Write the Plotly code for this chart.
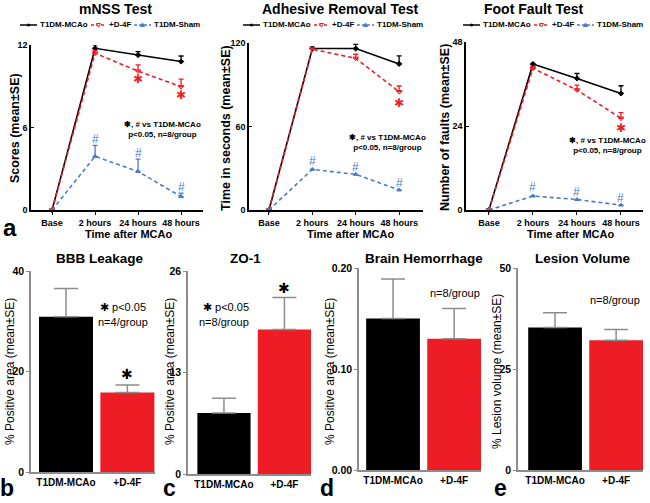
import plotly.graph_objects as go

# ---------------- data ----------------
time_labels = ["Base", "2 hours", "24 hours", "48 hours"]

mnss_mcao = [0, 11.76, 11.27, 10.8]
mnss_mcao_err = [0, 0.25, 0.25, 0.4]
mnss_d4f = [0, 11.4, 10.1, 8.97]
mnss_d4f_err = [0, 0.2, 0.45, 0.55]
mnss_sham = [0, 3.9, 2.8, 0.97]
mnss_sham_err = [0, 0.8, 0.9, 0.25]

adh_mcao = [0, 116, 116, 105]
adh_mcao_err = [0, 1, 3, 5.7]
adh_d4f = [0, 115.5, 109, 85]
adh_d4f_err = [0, 1, 2.9, 4.1]
adh_sham = [0, 29.2, 25.6, 14.4]
adh_sham_err = [0, 0, 0, 0]

ff_mcao = [0, 41.7, 37.6, 33.3]
ff_mcao_err = [0, 0, 1.4, 2.2]
ff_d4f = [0, 40.5, 34.3, 26.2]
ff_d4f_err = [0, 0.5, 1.4, 1.6]
ff_sham = [0, 4.0, 3.0, 1.4]
ff_sham_err = [0, 0, 0, 0]

# significance marks (x index, y value)
mnss_star = [(2, 9.5), (3, 8.36)]
mnss_hash = [(1, 5.2), (2, 4.15), (3, 1.65)]
adh_star = [(3, 77)]
adh_hash = [(1, 35.4), (2, 30.7), (3, 19.6)]
ff_star = [(3, 23.3)]
ff_hash = [(1, 6.6), (2, 5.1), (3, 3.5)]

bar_groups = ["T1DM-MCAo", "+D-4F"]
bbb = [30.9, 15.8]
bbb_err = [5.6, 1.5]
zo1 = [7.8, 18.5]
zo1_err = [1.9, 4.1]
hem = [0.150, 0.130]
hem_err = [0.039, 0.030]
lesion = [35.3, 32.1]
lesion_err = [3.6, 2.7]

# ---------------- helpers ----------------
W, H = 650, 503
def px(x):
    return x / W
def py(y):
    return 1 - y / H

BLACK = "#000000"
RED = "#EE1C25"
BLUE = "#4A7CC4"
GRAY = "#8C8C8C"
FONT = "Liberation Sans"

fig = go.Figure()
annotations = []
shapes = []

def ann(**kw):
    d = dict(showarrow=False, xanchor="center", yanchor="middle")
    d.update(kw)
    annotations.append(d)

top = [
    dict(title="mNSS Test", ytitle="Scores (mean±SE)",
         data=(mnss_mcao, mnss_mcao_err, mnss_d4f, mnss_d4f_err, mnss_sham, mnss_sham_err),
         xdom=(31, 203), ytop=45, yrange=[0, 12], ytick=[0, 6, 12],
         xrange=[-0.49, 3.51], tcx=116, ytx=15, xtx=128, dx=0,
         stars=mnss_star, hashes=mnss_hash, note=(163, 129)),
    dict(title="Adhesive Removal Test", ytitle="Time in seconds (mean±SE)",
         data=(adh_mcao, adh_mcao_err, adh_d4f, adh_d4f_err, adh_sham, adh_sham_err),
         xdom=(249, 423), ytop=43, yrange=[0, 120], ytick=[0, 60, 120],
         xrange=[-0.46, 3.55], tcx=340, ytx=226, xtx=350, dx=223,
         stars=adh_star, hashes=adh_hash, note=(387, 142)),
    dict(title="Foot Fault Test", ytitle="Number of faults (mean±SE)",
         data=(ff_mcao, ff_mcao_err, ff_d4f, ff_d4f_err, ff_sham, ff_sham_err),
         xdom=(466, 643), ytop=42, yrange=[0, 48], ytick=[0, 24, 48],
         xrange=[-0.52, 3.5], tcx=534, ytx=445, xtx=570, dx=443,
         stars=ff_star, hashes=ff_hash, note=(607, 146)),
]

xs = list(range(len(time_labels)))
layout_axes = {}

for i, p in enumerate(top, start=1):
    xa = "x" if i == 1 else f"x{i}"
    ya = "y" if i == 1 else f"y{i}"
    mcao, mcao_e, d4f, d4f_e, sham, sham_e = p["data"]
    series = [
        (mcao, mcao_e, BLACK, "solid", "diamond", 4),
        (d4f, d4f_e, RED, "4px,3px", "triangle-down-open", 5),
        (sham, sham_e, BLUE, "4px,3px", "triangle-up", 4),
    ]
    for vals, errs, col, dash, sym, ms in series:
        fig.add_trace(go.Scatter(
            x=xs, y=vals, xaxis=xa, yaxis=ya, mode="lines+markers",
            line=dict(color=col, width=1.6, dash=dash),
            marker=dict(color=col, symbol=sym, size=ms, line=dict(color=col, width=1)),
            error_y=dict(type="data", symmetric=False, array=errs,
                         arrayminus=[0] * len(errs), color=col, thickness=1.3, width=2.5),
            cliponaxis=False, showlegend=False))
    layout_axes["xaxis" if i == 1 else f"xaxis{i}"] = dict(
        domain=[px(p["xdom"][0]), px(p["xdom"][1])], anchor=ya, automargin=False,
        range=p["xrange"], tickvals=xs, ticktext=time_labels,
        showline=True, linecolor=BLACK, linewidth=1.5, ticks="outside",
        ticklen=3, tickcolor=BLACK, showgrid=False, zeroline=False,
        tickfont=dict(family=FONT, size=9, color=BLACK, weight="bold"))
    layout_axes["yaxis" if i == 1 else f"yaxis{i}"] = dict(
        domain=[py(210), py(p["ytop"])], anchor=xa, automargin=False,
        range=p["yrange"], tickvals=p["ytick"],
        showline=True, linecolor=BLACK, linewidth=1.5, ticks="inside",
        ticklen=3, tickcolor=BLACK, showgrid=False, zeroline=False,
        tickfont=dict(family=FONT, size=9, color=BLACK, weight="bold"))
    ann(x=px(p["tcx"]), y=py(9), xref="paper", yref="paper", text=p["title"],
        font=dict(family=FONT, size=14, color=BLACK, weight="bold"))
    ann(x=px(p["ytx"]), y=py(128), xref="paper", yref="paper", text=p["ytitle"],
        textangle=-90, font=dict(family=FONT, size=12.5, color=BLACK, weight="bold"))
    ann(x=px(p["xtx"]), y=py(234), xref="paper", yref="paper", text="Time after MCAo",
        font=dict(family=FONT, size=11, color=BLACK, weight="bold"))
    ann(x=px(p["note"][0]), y=py(p["note"][1]), xref="paper", yref="paper",
        text="✱, # vs T1DM-MCAo<br>p&lt;0.05, n=8/group", align="center",
        font=dict(family=FONT, size=8, color=BLACK, weight="bold"))
    for (sx, sy) in p["stars"]:
        ann(x=sx, y=sy, xref=xa, yref=ya, text="✱",
            font=dict(family="DejaVu Sans", size=12, color=RED))
    for (hx, hy) in p["hashes"]:
        ann(x=hx, y=hy, xref=xa, yref=ya, text="#",
            font=dict(family=FONT, size=12, color=BLUE))
    # compact legend drawn manually
    dx = p["dx"]
    leg = [(20, 37, 38, BLACK, "solid", "T1DM-MCAo", "dot"),
           (91, 106, 107, RED, "dash", "+D-4F", "tridown"),
           (134, 151, 152, BLUE, "dash", "T1DM-Sham", "triup")]
    for (l0, l1, tx, col, dash, txt, mk) in leg:
        shapes.append(dict(type="line", xref="paper", yref="paper",
                           x0=px(l0 + dx), x1=px(l1 + dx), y0=py(25), y1=py(25),
                           line=dict(color=col, width=1.5,
                                     dash="solid" if dash == "solid" else "3px,2px")))
        cx = (l0 + l1) / 2 + dx
        if mk == "dot":
            shapes.append(dict(type="circle", xref="paper", yref="paper",
                               x0=px(cx - 1.5), x1=px(cx + 1.5), y0=py(26.5), y1=py(23.5),
                               fillcolor=col, line=dict(color=col, width=0)))
        elif mk == "tridown":
            path = f"M {px(cx-2)} {py(23.5)} L {px(cx+2)} {py(23.5)} L {px(cx)} {py(27)} Z"
            shapes.append(dict(type="path", xref="paper", yref="paper", path=path,
                               fillcolor="white", line=dict(color=col, width=1)))
        else:
            path = f"M {px(cx-2)} {py(26.5)} L {px(cx+2)} {py(26.5)} L {px(cx)} {py(23)} Z"
            shapes.append(dict(type="path", xref="paper", yref="paper", path=path,
                               fillcolor=col, line=dict(color=col, width=1)))
        ann(x=px(tx + dx), y=py(25), xref="paper", yref="paper", xanchor="left",
            text=txt, font=dict(family=FONT, size=8, color=BLACK, weight="bold"))

bottom = [
    dict(title="BBB Leakage", ytitle="% Positive area (mean±SE)", vals=bbb, errs=bbb_err,
         xdom=(31, 155), ybot=472, ytop=271, yrange=[0, 40], ytick=[0, 20, 40],
         yticktext=["0", "20", "40"], xrange=[-0.57, 1.45], tcx=100, ytx=10,
         letter=("b", 7), notes=[(123, 307, "✱ p&lt;0.05"), (123, 322, "n=4/group")],
         star=(1, 19.6)),
    dict(title="ZO-1", ytitle="% Positive area (mean±SE)", vals=zo1, errs=zo1_err,
         xdom=(188, 311), ybot=474, ytop=271, yrange=[0, 26], ytick=[0, 13, 26],
         yticktext=["0", "13", "26"], xrange=[-0.595, 1.44], tcx=245, ytx=170,
         letter=("c", 169), notes=[(226, 307, "✱ p&lt;0.05"), (224, 322, "n=8/group")],
         star=(1, 23.8)),
    dict(title="Brain Hemorrhage", ytitle="% Positive area (mean±SE)", vals=hem, errs=hem_err,
         xdom=(359, 481), ybot=470, ytop=268, yrange=[0, 0.2], ytick=[0, 0.1, 0.2],
         yticktext=["0.00", "0.10", "0.20"], xrange=[-0.557, 1.44], tcx=424, ytx=330,
         letter=("d", 327), notes=[(455, 293, "n=8/group")], star=None),
    dict(title="Lesion Volume", ytitle="% Lesion volume (mean±SE)", vals=lesion, errs=lesion_err,
         xdom=(518, 643), ybot=470, ytop=268, yrange=[0, 50], ytick=[0, 25, 50],
         yticktext=["0", "25", "50"], xrange=[-0.607, 1.44], tcx=583, ytx=497,
         letter=("e", 500), notes=[(615, 300, "n=8/group")], star=None),
]

for j, p in enumerate(bottom, start=4):
    xa, ya = f"x{j}", f"y{j}"
    fig.add_trace(go.Bar(
        x=[0, 1], y=p["vals"], xaxis=xa, yaxis=ya, width=0.88,
        marker=dict(color=[BLACK, RED], line=dict(width=0)),
        error_y=dict(type="data", symmetric=False, array=p["errs"], arrayminus=[0, 0],
                     color=GRAY, thickness=1.5, width=12),
        showlegend=False))
    layout_axes[f"xaxis{j}"] = dict(
        domain=[px(p["xdom"][0]), px(p["xdom"][1])], anchor=ya, automargin=False,
        range=p["xrange"], tickvals=[0, 1], ticktext=bar_groups,
        showline=True, linecolor=GRAY, linewidth=1.5, ticks="",
        showgrid=False, zeroline=False,
        tickfont=dict(family=FONT, size=10, color=BLACK, weight="bold"))
    layout_axes[f"yaxis{j}"] = dict(
        domain=[py(p["ybot"]), py(p["ytop"])], anchor=xa, automargin=False,
        range=p["yrange"], tickvals=p["ytick"], ticktext=p["yticktext"],
        showline=True, linecolor=GRAY, linewidth=1.5, ticks="outside",
        ticklen=3, tickcolor=GRAY, showgrid=False, zeroline=False,
        tickfont=dict(family=FONT, size=10.5, color=BLACK, weight="bold"))
    ann(x=px(p["tcx"]), y=py(258), xref="paper", yref="paper", text=p["title"],
        font=dict(family=FONT, size=13.5, color=BLACK, weight="bold"))
    ann(x=px(p["ytx"]), y=py(372), xref="paper", yref="paper", text=p["ytitle"],
        textangle=-90, font=dict(family=FONT, size=12, color=BLACK))
    for (nx, ny, nt) in p["notes"]:
        ann(x=px(nx), y=py(ny), xref="paper", yref="paper", text=nt,
            font=dict(family=FONT, size=11, color=BLACK))
    if p["star"] is not None:
        ann(x=p["star"][0], y=p["star"][1], xref=xa, yref=ya, text="✱",
            font=dict(family="DejaVu Sans", size=14, color=BLACK))
    ann(x=px(p["letter"][1]), y=py(488), xref="paper", yref="paper", text=p["letter"][0],
        font=dict(family=FONT, size=23, color=BLACK, weight="bold"))

ann(x=px(10), y=py(227), xref="paper", yref="paper", text="a",
    font=dict(family=FONT, size=24, color=BLACK, weight="bold"))

fig.update_layout(
    template="none",
    width=W, height=H, margin=dict(l=0, r=0, t=0, b=0, autoexpand=False),
    paper_bgcolor="white", plot_bgcolor="white",
    showlegend=False, annotations=annotations, shapes=shapes,
    **layout_axes)

fig.write_html("out.html", config={"displayModeBar": False},
               post_script="document.body.style.margin='0px';document.body.style.overflow='hidden';")
